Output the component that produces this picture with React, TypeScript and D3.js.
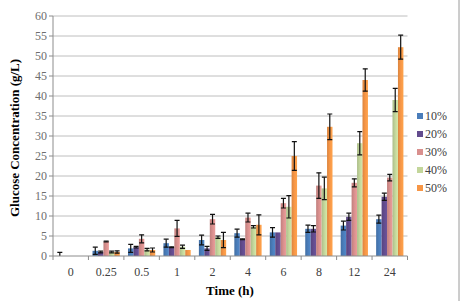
import * as d3 from "d3";

const timePoints = ["0", "0.25", "0.5", "1", "2", "4", "6", "8", "12", "24"];
const seriesNames = ["10%", "20%", "30%", "40%", "50%"];
const seriesColors = ["#4A7DBA", "#634C8E", "#D9908E", "#C3D69B", "#F79646"];

// glucose (g/L) per series, one value per time point
const glucose10 = [0, 1.3, 1.9, 3.2, 4.0, 5.7, 5.9, 6.8, 7.6, 9.2];
const glucose20 = [0, 1.0, 2.2, 2.2, 1.9, 4.2, 5.9, 6.8, 9.8, 14.8];
const glucose30 = [0, 3.6, 4.3, 6.9, 9.2, 9.6, 13.2, 17.6, 18.3, 19.6];
const glucose40 = [0, 1.0, 1.6, 2.3, 4.7, 7.3, 12.3, 16.9, 28.2, 39.0];
const glucose50 = [0, 1.0, 1.5, 1.5, 4.0, 7.8, 25.0, 32.3, 44.0, 52.2];

// standard deviations
const err10 = [0.9, 0.9, 1.0, 1.0, 1.2, 1.0, 1.2, 0.9, 1.1, 1.0];
const err20 = [0, 0.2, 0.2, 0.1, 0.5, 0.1, 0, 0.8, 0.9, 0.9];
const err30 = [0, 0.1, 1.0, 2.0, 1.2, 1.1, 1.2, 3.2, 1.0, 0.8];
const err40 = [0, 0.2, 0.3, 0.4, 0.3, 0.3, 2.8, 2.8, 2.9, 2.9];
const err50 = [0, 0.3, 0.5, 0, 1.9, 2.5, 3.6, 3.2, 2.8, 3.0];

const values = [glucose10, glucose20, glucose30, glucose40, glucose50];
const errors = [err10, err20, err30, err40, err50];
const yTicks = d3.range(0, 61, 5);

const W = 463;
const H = 301;
const left = 53;
const right = 407.5;
const top = 16;
const bottom = 256;
const font = "Liberation Serif, Times New Roman, DejaVu Serif, serif";

export default function App() {
  const x = d3.scaleBand<string>().domain(timePoints).range([left, right]).paddingInner(0).paddingOuter(0);
  const barW = x.bandwidth() / 6.5;
  const inner = d3.scaleBand<string>().domain(seriesNames).range([barW * 0.75, x.bandwidth() - barW * 0.75]);
  const y = d3.scaleLinear().domain([0, 60]).range([bottom, top]);

  return (
    <svg width={W} height={H} style={{ position: "absolute", left: 0, top: 0, background: "#fff", fontFamily: font }}>
      <defs>
        <clipPath id="plot">
          <rect x={left} y={top - 5} width={right - left} height={bottom - top + 5} />
        </clipPath>
        {seriesColors.map((c, i) => (
          <linearGradient key={i} id={`grad${i}`} x1="0" x2="1" y1="0" y2="0">
            <stop offset="0" stopColor={d3.color(c)!.darker(0.35).toString()} />
            <stop offset="0.5" stopColor={c} />
            <stop offset="1" stopColor={d3.color(c)!.brighter(0.25).toString()} />
          </linearGradient>
        ))}
      </defs>

      {yTicks.filter((t) => t > 0).map((t) => (
        <line key={t} x1={left} x2={right} y1={y(t)} y2={y(t)} stroke="#BEBEBE" strokeWidth={1} />
      ))}

      {yTicks.map((t) => (
        <g key={t}>
          <line x1={left - 4} x2={left} y1={y(t)} y2={y(t)} stroke="#8C8C8C" />
          <text x={left - 6} y={y(t)} textAnchor="end" dominantBaseline="central" style={{ fontFamily: font }} fontSize={12} fill="#6E6E6E">
            {t}
          </text>
        </g>
      ))}

      <g clipPath="url(#plot)">
        {values.map((vals, s) =>
          vals.map((v, i) => {
            const bx = (x(timePoints[i]) ?? 0) + (inner(seriesNames[s]) ?? 0);
            const cx = bx + inner.bandwidth() / 2;
            const e = errors[s][i];
            return (
              <g key={`${s}-${i}`}>
                <rect x={bx} y={y(v)} width={inner.bandwidth()} height={bottom - y(v)} fill={`url(#grad${s})`} />
                {e > 0 && (
                  <g stroke="#111" strokeWidth={1.2}>
                    <line x1={cx} x2={cx} y1={y(v + e)} y2={y(Math.max(v - e, 0))} />
                    <line x1={cx - 2.5} x2={cx + 2.5} y1={y(v + e)} y2={y(v + e)} />
                    {v - e > 0 && <line x1={cx - 2.5} x2={cx + 2.5} y1={y(v - e)} y2={y(v - e)} />}
                  </g>
                )}
              </g>
            );
          })
        )}
      </g>

      <line x1={left} x2={left} y1={top} y2={bottom} stroke="#8C8C8C" />
      <line x1={left} x2={right} y1={bottom} y2={bottom} stroke="#8C8C8C" />
      {[...timePoints, "end"].map((t, i) => {
        const px = left + i * x.step();
        return <line key={t} x1={px} x2={px} y1={bottom} y2={bottom + 4} stroke="#8C8C8C" />;
      })}
      {timePoints.map((t) => (
        <text key={t} x={(x(t) ?? 0) + x.bandwidth() / 2} y={272} textAnchor="middle" dominantBaseline="central" style={{ fontFamily: font }} fontSize={12} fill="#404040">
          {t}
        </text>
      ))}

      <text x={230} y={290} textAnchor="middle" dominantBaseline="central" style={{ fontFamily: font }} fontSize={13} fontWeight="bold">
        Time (h)
      </text>
      <text
        transform={`translate(14, ${(top + bottom) / 2 + 2}) rotate(-90)`}
        textAnchor="middle"
        dominantBaseline="central"
        style={{ fontFamily: font }}
        fontSize={13}
        fontWeight="bold"
      >
        Glucose Concentration (g/L)
      </text>

      {seriesNames.map((n, i) => (
        <g key={n} transform={`translate(417, ${116 + i * 18})`}>
          <rect x={0} y={-3} width={6} height={6} fill={seriesColors[i]} />
          <text x={8} y={0} dominantBaseline="central" style={{ fontFamily: font }} fontSize={12} fill="#404040">
            {n}
          </text>
        </g>
      ))}

      <line x1={459} x2={459} y1={0} y2={H} stroke="#9A9A9A" />
    </svg>
  );
}
